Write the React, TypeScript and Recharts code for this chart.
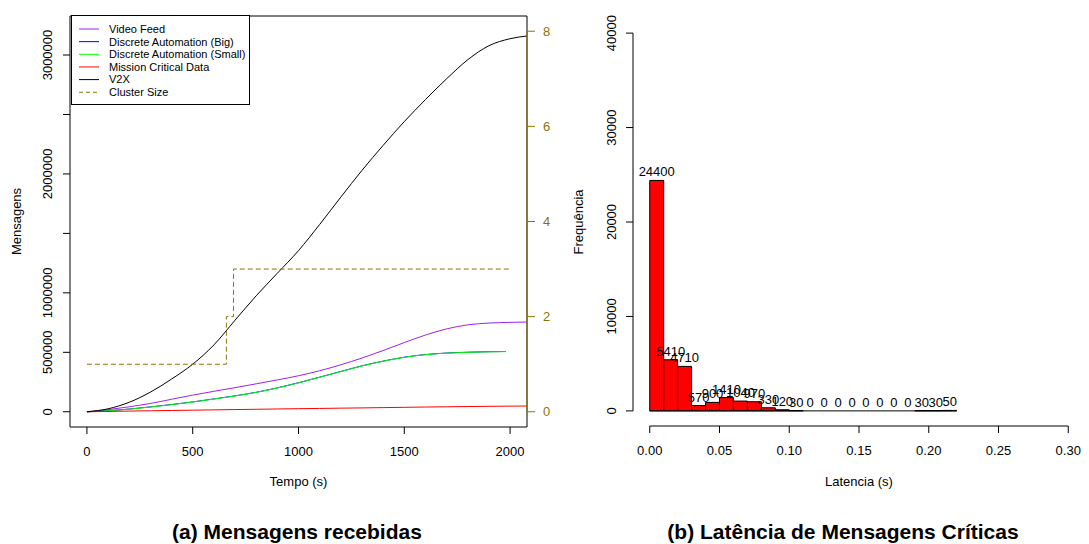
import React from 'react';
import {
  ComposedChart, Line, Bar, XAxis, YAxis, ReferenceArea, ReferenceLine, LabelList,
} from 'recharts';

const FONT = '"Liberation Sans", Arial, Helvetica, sans-serif';
const OLIVE = '#8B7500';

// ---------- (a) Mensagens recebidas ----------
const timeGrid = [0, 100, 200, 300, 400, 500, 600, 700, 800, 900, 1000, 1100, 1200, 1300, 1400, 1500, 1600, 1700, 1800, 1900, 2000, 2080];
const videoFeed = [0, 18000, 42000, 70000, 105000, 140000, 172000, 203000, 235000, 268000, 303000, 345000, 395000, 452000, 515000, 582000, 645000, 697000, 731000, 746000, 752000, 755000];
const missionCritical = [0, 3000, 6000, 8500, 11000, 13500, 16000, 18500, 21000, 23500, 26000, 28000, 30500, 32500, 35000, 37500, 40000, 42000, 44000, 46000, 47500, 48500];
const v2x = [0, 25000, 80000, 165000, 275000, 400000, 562000, 770000, 975000, 1165000, 1355000, 1575000, 1805000, 2030000, 2240000, 2440000, 2625000, 2800000, 2960000, 3078000, 3137000, 3160000];

const automationTime = [0, 100, 200, 300, 400, 500, 600, 700, 800, 900, 1000, 1100, 1200, 1300, 1400, 1500, 1600, 1700, 1800, 1900, 1980];
const automationBig = [0, 8500, 23000, 41000, 61000, 83000, 108000, 134000, 164000, 201000, 244000, 291000, 339000, 386000, 426000, 459000, 481000, 494000, 501000, 505000, 507000];
const automationSmall = [0, 8000, 22000, 40000, 60000, 82000, 107000, 133000, 163000, 200000, 243000, 290000, 338000, 385000, 425000, 458000, 480000, 493000, 500000, 504000, 506000];

const clusterTime = [0, 659, 659, 693, 693, 1998];
const clusterSize = [1, 1, 2, 2, 3, 3];

const timeTicks = [0, 500, 1000, 1500, 2000];
const msgTicks = [0, 500000, 1000000, 1500000, 2000000, 2500000, 3000000];
const msgTicksHiddenLabel = [1500000, 2500000];
const clusterTicks = [0, 2, 4, 6, 8];

// ---------- (b) Latência ----------
const binLower = [0, 0.01, 0.02, 0.03, 0.04, 0.05, 0.06, 0.07, 0.08, 0.09, 0.1, 0.11, 0.12, 0.13, 0.14, 0.15, 0.16, 0.17, 0.18, 0.19, 0.2, 0.21];
const binCounts = [24400, 5410, 4710, 570, 900, 1410, 1040, 970, 330, 120, 30, 0, 0, 0, 0, 0, 0, 0, 0, 30, 30, 50];
const binWidth = 0.01;
const latTicks = [0, 0.05, 0.1, 0.15, 0.2, 0.25, 0.3];
const freqTicks = [0, 10000, 20000, 30000, 40000];

const toPoints = (ts: number[], vs: number[]) => ts.map((t, i) => ({ t, v: vs[i] }));

const series = [
  { name: 'Video Feed', color: '#A020F0', data: toPoints(timeGrid, videoFeed) },
  { name: 'Discrete Automation (Big)', color: '#0000FF', data: toPoints(automationTime, automationBig) },
  { name: 'Discrete Automation (Small)', color: '#00FF00', data: toPoints(automationTime, automationSmall) },
  { name: 'Mission Critical Data', color: '#FF0000', data: toPoints(timeGrid, missionCritical) },
  { name: 'V2X', color: '#000000', data: toPoints(timeGrid, v2x) },
];
const clusterData = toPoints(clusterTime, clusterSize);

const histData = binLower.map((lo, i) => ({ mid: lo + binWidth / 2, count: binCounts[i] }));

const makeRotTick = (hidden: number[]) => (props: any) => {
  const { x, y, payload } = props;
  if (hidden.includes(payload.value)) return <g />;
  return (
    <text x={x} y={y} transform={`rotate(-90 ${x} ${y})`} textAnchor="middle" fontSize={13} fill="#000" fontFamily={FONT}>
      {String(payload.value)}
    </text>
  );
};

const renderCountLabel = (props: any) => {
  const vb = props.viewBox || {};
  const x = typeof props.x === 'number' ? props.x : vb.x;
  const y = typeof props.y === 'number' ? props.y : vb.y;
  return (
    <text x={x} y={y - 4} textAnchor="middle" fontSize={13} fill="#000" fontFamily={FONT}>
      {String(props.value)}
    </text>
  );
};

const legendItems = [
  ...series.map((s) => ({ name: s.name, color: s.color, dash: undefined as string | undefined })),
  { name: 'Cluster Size', color: OLIVE, dash: '4 3' },
];

export default function App() {
  return (
    <div style={{ position: 'fixed', left: 0, top: 0, width: 1089, height: 544, background: '#fff', fontFamily: FONT }}>
      <div style={{ position: 'absolute', left: 0, top: 0 }}>
        <ComposedChart width={560} height={544} margin={{ top: 16, right: 0, bottom: 57, left: 0 }}>
          <XAxis type="number" dataKey="t" domain={[-80, 2080]} allowDataOverflow ticks={timeTicks} interval={0}
            tickSize={7} tickMargin={13} axisLine={false} stroke="#000" height={60}
            tick={{ fontSize: 13, fill: '#000' }} />
          <YAxis yAxisId="left" type="number" domain={[-128000, 3328000]} allowDataOverflow ticks={msgTicks} interval={0}
            width={70} tickSize={7} tickMargin={10.5} axisLine={false} stroke="#000"
            tick={makeRotTick(msgTicksHiddenLabel)} />
          <YAxis yAxisId="right" orientation="right" type="number" domain={[-0.32, 8.32]} allowDataOverflow ticks={clusterTicks} interval={0}
            width={33} tickSize={8} tickMargin={8} axisLine={false} stroke={OLIVE}
            tick={{ fontSize: 13, fill: OLIVE }} />
          <ReferenceArea yAxisId="left" x1={-80} x2={2080} y1={-128000} y2={3328000} fill="none" stroke="#000" strokeWidth={1} ifOverflow="visible" />
          {series.map((s) => (
            <Line key={s.name} yAxisId="left" data={s.data} dataKey="v" type="monotone" dot={false} activeDot={false}
              stroke={s.color} strokeWidth={1} isAnimationActive={false} />
          ))}
          <Line yAxisId="right" data={clusterData} dataKey="v" type="linear" dot={false} activeDot={false} stroke={OLIVE}
            strokeDasharray="5 3" strokeWidth={1} isAnimationActive={false} />
          <ReferenceLine yAxisId="right" segment={[{ x: 2080, y: 0 }, { x: 2080, y: 8 }]} stroke={OLIVE} ifOverflow="visible" />
        </ComposedChart>
      </div>

      <div style={{ position: 'absolute', left: 560, top: 0 }}>
        <ComposedChart width={529} height={544} data={histData} margin={{ top: 18, right: 4, bottom: 58, left: 0 }}
          barCategoryGap={0} barGap={0}>
          <XAxis type="number" dataKey="mid" domain={[-0.012, 0.312]} allowDataOverflow ticks={latTicks} interval={0}
            tickFormatter={(v: number) => v.toFixed(2)} tickSize={7} tickMargin={13} axisLine={false} stroke="#000"
            height={60} tick={{ fontSize: 13, fill: '#000' }} />
          <YAxis type="number" domain={[-1600, 41600]} allowDataOverflow ticks={freqTicks} interval={0}
            width={73} tickSize={7} tickMargin={10} axisLine={false} stroke="#000" tick={makeRotTick([])} />
          <ReferenceLine segment={[{ x: latTicks[0], y: -1600 }, { x: latTicks[latTicks.length - 1], y: -1600 }]} stroke="#000" ifOverflow="visible" />
          <ReferenceLine segment={[{ x: -0.012, y: freqTicks[0] }, { x: -0.012, y: freqTicks[freqTicks.length - 1] }]} stroke="#000" ifOverflow="visible" />
          <ReferenceLine segment={[{ x: binLower[0], y: 0 }, { x: binLower[binLower.length - 1] + binWidth, y: 0 }]} stroke="#000" ifOverflow="visible" />
          <Bar dataKey="count" fill="#FF0000" stroke="#000" strokeWidth={1} barSize={13.95} isAnimationActive={false} />
          <Line dataKey="count" type="linear" stroke="none" dot={false} activeDot={false} isAnimationActive={false}>
            <LabelList dataKey="count" content={renderCountLabel} />
          </Line>
        </ComposedChart>
      </div>

      <svg width={179} height={90} style={{ position: 'absolute', left: 71, top: 15 }}>
        <rect x={0.5} y={0.5} width={178} height={89} fill="#fff" stroke="#000" />
        {legendItems.map((it, i) => {
          const cy = 14 + i * 12.65;
          return (
            <g key={it.name}>
              <line x1={8} x2={28} y1={cy} y2={cy} stroke={it.color} strokeDasharray={it.dash} />
              <text x={38} y={cy} dy="0.35em" fontSize={11} fill="#000" fontFamily={FONT}>{it.name}</text>
            </g>
          );
        })}
      </svg>

      <svg width={1089} height={544} style={{ position: 'absolute', left: 0, top: 0, pointerEvents: 'none' }}>
        <text x={21} y={221.5} transform="rotate(-90 21 221.5)" textAnchor="middle" fontSize={13} fill="#000" fontFamily={FONT}>Mensagens</text>
        <text x={583} y={222} transform="rotate(-90 583 222)" textAnchor="middle" fontSize={13} fill="#000" fontFamily={FONT}>Frequência</text>
        <text x={298.5} y={486} textAnchor="middle" fontSize={13} fill="#000" fontFamily={FONT}>Tempo (s)</text>
        <text x={859} y={486} textAnchor="middle" fontSize={13} fill="#000" fontFamily={FONT}>Latencia (s)</text>
        <text x={297} y={539} textAnchor="middle" fontSize={21} fontWeight="bold" fill="#000" fontFamily={FONT}>(a) Mensagens recebidas</text>
        <text x={843} y={539} textAnchor="middle" fontSize={21} fontWeight="bold" fill="#000" fontFamily={FONT}>(b) Latência de Mensagens Críticas</text>
      </svg>
    </div>
  );
}
